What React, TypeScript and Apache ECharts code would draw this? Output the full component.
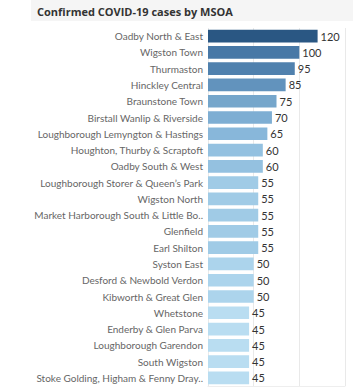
import React, { useEffect, useRef } from "react";
import * as echarts from "echarts";

const categories = [
  "Oadby North & East",
  "Wigston Town",
  "Thurmaston",
  "Hinckley Central",
  "Braunstone Town",
  "Birstall Wanlip & Riverside",
  "Loughborough Lemyngton & Hastings",
  "Houghton, Thurby & Scraptoft",
  "Oadby South & West",
  "Loughborough Storer & Queen\u2019s Park",
  "Wigston North",
  "Market Harborough South & Little Bo..",
  "Glenfield",
  "Earl Shilton",
  "Syston East",
  "Desford & Newbold Verdon",
  "Kibworth & Great Glen",
  "Whetstone",
  "Enderby & Glen Parva",
  "Loughborough Garendon",
  "South Wigston",
  "Stoke Golding, Higham & Fenny Dray..",
];
const cases = [120, 100, 95, 85, 75, 70, 65, 60, 60, 55, 55, 55, 55, 55, 50, 50, 50, 45, 45, 45, 45, 45];
const xTicks = [0, 50, 100, 150];
const title = "Confirmed COVID-19 cases by MSOA";
const palette = [
  "#b9ddf1", "#afd6ed", "#a5cfe9", "#9bc7e4", "#92c0df", "#89b8da", "#80b0d5",
  "#79aacf", "#72a3c9", "#6a9bc3", "#6394be", "#5b8cb8", "#5485b2", "#4e7fac",
  "#4878a6", "#437199", "#3d6a98", "#376491", "#305d8a", "#2a5783",
];

export default function App() {
  const ref = useRef<HTMLDivElement>(null);
  useEffect(() => {
    document.body.style.margin = "0";
    if (!ref.current) return;
    const chart = echarts.init(ref.current, undefined, { renderer: "svg" });
    const font = "Lato, sans-serif";
    chart.setOption({
      animation: false,
      graphic: [
        { type: "rect", shape: { x: 31, y: 0, width: 322, height: 21 }, style: { fill: "#f5f5f5" }, silent: true },
        {
          type: "text", x: 37, y: 11,
          style: { text: title, fill: "#333", font: "bold 11px 'Open Sans', sans-serif", textVerticalAlign: "middle" },
        },
      ],
      visualMap: {
        show: false, min: 45, max: 120, dimension: 0, seriesIndex: 0,
        inRange: { color: palette },
      },
      grid: { left: 208, right: 8, top: 28, bottom: 1 },
      xAxis: {
        type: "value", min: xTicks[0], max: xTicks[xTicks.length - 1], interval: 50,
        axisLabel: { show: false }, axisTick: { show: false },
        axisLine: { show: true, lineStyle: { color: "#eeeeee" } },
        splitLine: { show: true, lineStyle: { color: "#e9e9e9", width: 1 } },
      },
      yAxis: {
        type: "category", data: categories, inverse: true,
        axisLine: { show: false }, axisTick: { show: false },
        axisLabel: { color: "#666", fontSize: 10, fontFamily: font, margin: 5 },
      },
      series: [
        {
          type: "bar", data: cases, barCategoryGap: "22%",
          label: { show: true, position: "right", distance: 3, color: "#333", fontSize: 11, fontFamily: font },
        },
      ],
    });
    return () => chart.dispose();
  }, []);
  return <div ref={ref} style={{ width: 353, height: 387 }} />;
}
